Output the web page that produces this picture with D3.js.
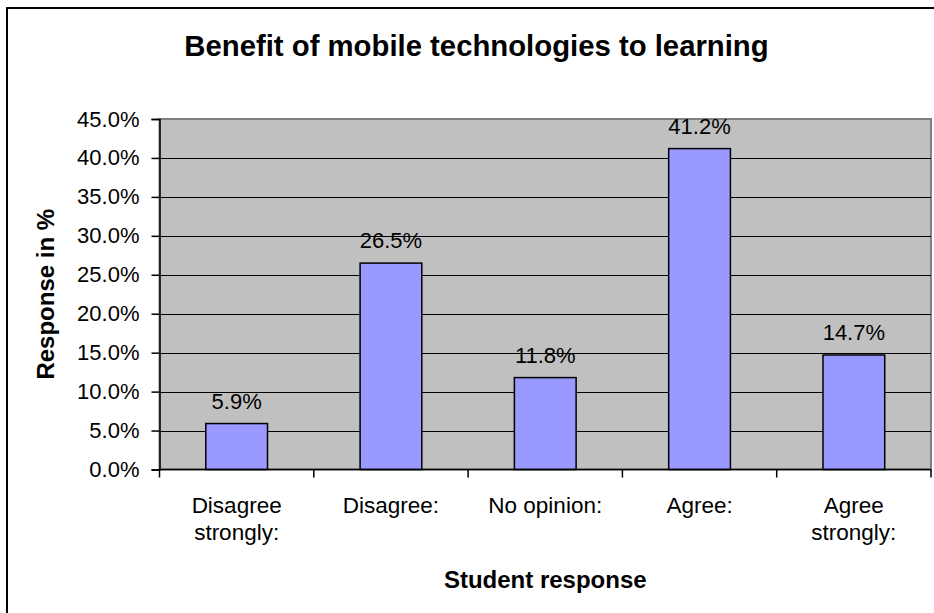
<!DOCTYPE html>
<html>
<head>
<meta charset="utf-8">
<script src="https://cdn.jsdelivr.net/npm/d3@7"></script>
<style>
  html, body { margin: 0; padding: 0; background: #fff; }
  svg { display: block; font-family: "Liberation Sans", Arial, sans-serif; }
</style>
</head>
<body>
<svg id="chart" width="934" height="613"></svg>
<script>
// Survey results: share of students per response option
const categories = [["Disagree", "strongly:"], ["Disagree:"], ["No opinion:"], ["Agree:"], ["Agree", "strongly:"]];
const values = [5.9, 26.5, 11.8, 41.2, 14.7];
const yTicks = [0, 5, 10, 15, 20, 25, 30, 35, 40, 45];

const titleText = "Benefit of mobile technologies to learning";
const xTitle = "Student response";
const yTitle = "Response in %";

const svg = d3.select("#chart");
const plot = { left: 159.5, right: 931, top: 119, bottom: 469.5 };

// Outer chart frame (extends past the visible edge on the right and bottom)
svg.append("rect")
  .attr("x", 7).attr("y", 8)
  .attr("width", 980).attr("height", 640)
  .attr("fill", "#fff")
  .attr("stroke", "#000").attr("stroke-width", 2);

const x = d3.scaleBand()
  .domain(d3.range(categories.length))
  .range([plot.left, plot.right])
  .paddingInner(0.6)
  .paddingOuter(0.3);

const y = d3.scaleLinear()
  .domain([0, 45])
  .range([plot.bottom, plot.top]);

// Plot area background
svg.append("rect")
  .attr("x", plot.left).attr("y", plot.top)
  .attr("width", plot.right - plot.left).attr("height", plot.bottom - plot.top)
  .attr("fill", "#c0c0c0")
  .attr("stroke", "#808080").attr("stroke-width", 2);

// Horizontal gridlines
svg.append("g")
  .selectAll("line")
  .data(yTicks.filter(d => d > 0 && d < 45))
  .join("line")
  .attr("x1", plot.left).attr("x2", plot.right)
  .attr("y1", d => Math.round(y(d)) + 0.5).attr("y2", d => Math.round(y(d)) + 0.5)
  .attr("stroke", "#000").attr("stroke-width", 1);

// Bars
svg.append("g")
  .selectAll("rect")
  .data(values)
  .join("rect")
  .attr("x", (d, i) => x(i))
  .attr("y", d => y(d))
  .attr("width", x.bandwidth())
  .attr("height", d => y(0) - y(d))
  .attr("fill", "#9999ff")
  .attr("stroke", "#000").attr("stroke-width", 1.5);

// Value labels
svg.append("g")
  .selectAll("text")
  .data(values)
  .join("text")
  .attr("x", (d, i) => x(i) + x.bandwidth() / 2)
  .attr("y", d => y(d) - 15)
  .attr("text-anchor", "middle")
  .attr("font-size", 22)
  .attr("fill", "#000")
  .text(d => d.toFixed(1) + "%");

// Y axis
const yAxis = d3.axisLeft(y)
  .tickValues(yTicks)
  .tickSize(8)
  .tickPadding(12)
  .tickFormat(d => d.toFixed(1) + "%");
const gy = svg.append("g")
  .attr("transform", `translate(${plot.left},0)`)
  .call(yAxis);
gy.select(".domain").attr("stroke", "#000").attr("stroke-width", 1.5);
gy.selectAll(".tick line").attr("stroke", "#000").attr("stroke-width", 1.5);
gy.selectAll(".tick text")
  .attr("font-size", 22)
  .attr("font-family", "Liberation Sans, Arial, sans-serif")
  .attr("fill", "#000");

// X axis: category separators and baseline
const sepPositions = d3.range(categories.length + 1).map(i => plot.left + i * x.step());
svg.append("line")
  .attr("x1", plot.left).attr("x2", plot.right)
  .attr("y1", plot.bottom).attr("y2", plot.bottom)
  .attr("stroke", "#000").attr("stroke-width", 1.5);
svg.append("g")
  .selectAll("line")
  .data(sepPositions)
  .join("line")
  .attr("x1", d => d).attr("x2", d => d)
  .attr("y1", plot.bottom).attr("y2", plot.bottom + 8)
  .attr("stroke", "#000").attr("stroke-width", 1.5);

// Category labels (wrapped onto two lines where needed)
const catLabels = svg.append("g")
  .selectAll("text")
  .data(categories)
  .join("text")
  .attr("x", (d, i) => x(i) + x.bandwidth() / 2)
  .attr("y", 513)
  .attr("text-anchor", "middle")
  .attr("font-size", 22.5)
  .attr("fill", "#000");
catLabels.selectAll("tspan")
  .data(d => d)
  .join("tspan")
  .attr("x", function () { return d3.select(this.parentNode).attr("x"); })
  .attr("dy", (d, i) => i === 0 ? 0 : 27)
  .text(d => d);

// Title
svg.append("text")
  .attr("x", 476.5).attr("y", 56)
  .attr("text-anchor", "middle")
  .attr("font-size", 29.3).attr("font-weight", "bold")
  .text(titleText);

// Axis titles
svg.append("text")
  .attr("x", (plot.left + plot.right) / 2).attr("y", 588)
  .attr("text-anchor", "middle")
  .attr("font-size", 24).attr("font-weight", "bold")
  .text(xTitle);

svg.append("text")
  .attr("transform", `translate(54,${(plot.top + plot.bottom) / 2}) rotate(-90)`)
  .attr("text-anchor", "middle")
  .attr("font-size", 24).attr("font-weight", "bold")
  .text(yTitle);
</script>
</body>
</html>
